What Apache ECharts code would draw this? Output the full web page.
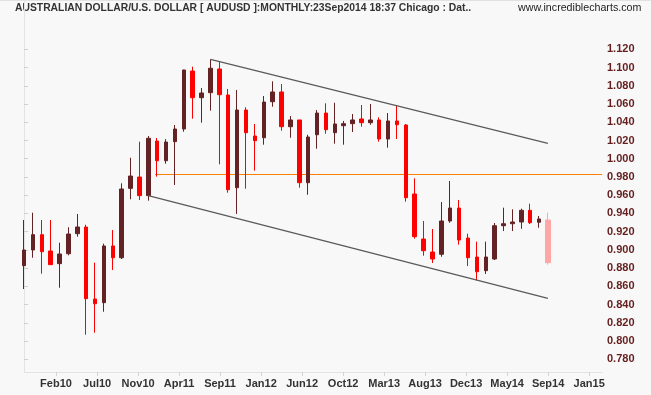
<!DOCTYPE html>
<html><head><meta charset="utf-8">
<script src="https://cdn.jsdelivr.net/npm/echarts@6/dist/echarts.min.js"></script>
<style>html,body{margin:0;padding:0;background:#f8f8f8}#c{width:651px;height:395px}</style>
</head><body><div id="c"></div>
<script>
// Monthly AUDUSD, Oct 2009 .. Sep 2014 (index 0 = Oct09)
const months = ['Oct09','Nov09','Dec09','Jan10','Feb10','Mar10','Apr10','May10','Jun10','Jul10','Aug10','Sep10',
  'Oct10','Nov10','Dec10','Jan11','Feb11','Mar11','Apr11','May11','Jun11','Jul11','Aug11','Sep11',
  'Oct11','Nov11','Dec11','Jan12','Feb12','Mar12','Apr12','May12','Jun12','Jul12','Aug12','Sep12',
  'Oct12','Nov12','Dec12','Jan13','Feb13','Mar13','Apr13','May13','Jun13','Jul13','Aug13','Sep13',
  'Oct13','Nov13','Dec13','Jan14','Feb14','Mar14','Apr14','May14','Jun14','Jul14','Aug14','Sep14'];
const opens = [0.8827,0.8999,0.9167,0.8988,0.8849,0.8958,0.9178,0.9251,0.8461,0.8421,0.9043,0.8914,
  0.9675,0.9799,0.9595,1.0194,0.9978,1.0187,1.0326,1.0962,1.0669,1.0724,1.0984,1.0699,
  0.9682,1.0534,1.0249,1.0230,1.0625,1.0732,1.0351,1.0425,0.9737,1.0263,1.0501,1.0285,
  1.0362,1.0384,1.0436,1.0395,1.0425,1.0216,1.0414,1.0370,0.9613,0.9119,0.8977,0.8952,
  0.9317,0.9459,0.9130,0.8922,0.8772,0.8900,0.9265,0.9287,0.9306,0.9434,0.9303,0.9328];
const highs = [0.9328,0.9408,0.9328,0.9328,0.9079,0.9248,0.9394,0.9276,0.8860,0.9068,0.9218,0.9730,
  1.0011,1.0187,1.0249,1.0227,1.0215,1.0370,1.0975,1.1009,1.0776,1.1090,1.1064,1.0765,
  1.0754,1.0564,1.0381,1.0688,1.0849,1.0819,1.0468,1.0425,1.0263,1.0534,1.0608,1.0614,
  1.0414,1.0490,1.0589,1.0600,1.0454,1.0501,1.0578,1.0381,0.9785,0.9317,0.9229,0.9525,
  0.9756,0.9547,0.9178,0.9090,0.9090,0.9295,0.9463,0.9445,0.9452,0.9507,0.9372,0.9408];
const lows = [0.8571,0.8914,0.8739,0.8835,0.8585,0.8941,0.9145,0.8070,0.8092,0.8322,0.8780,0.8900,
  0.9555,0.9547,0.9540,0.9803,0.9945,0.9712,1.0296,1.0439,1.0395,1.0527,0.9939,0.9627,
  0.9394,0.9671,0.9869,1.0154,1.0570,1.0307,1.0230,0.9682,0.9605,1.0110,1.0274,1.0165,
  1.0154,1.0293,1.0351,1.0373,1.0187,1.0121,1.0216,0.9529,0.9123,0.8936,0.8856,0.8925,
  0.9298,0.9057,0.8823,0.8667,0.8736,0.8889,0.9207,0.9207,0.9232,0.9284,0.9243,0.8838];
const closes = [0.8999,0.9167,0.8980,0.8838,0.8955,0.9174,0.9251,0.8465,0.8410,0.9043,0.8914,0.9668,
  0.9810,0.9595,1.0224,0.9978,1.0183,1.0326,1.0973,1.0669,1.0721,1.0992,1.0702,0.9660,
  1.0534,1.0285,1.0198,1.0622,1.0732,1.0351,1.0425,0.9737,1.0238,1.0501,1.0318,1.0381,
  1.0384,1.0425,1.0395,1.0425,1.0216,1.0414,1.0373,0.9572,0.9145,0.8991,0.8900,0.9317,
  0.9459,0.9108,0.8914,0.8761,0.8922,0.9265,0.9287,0.9306,0.9434,0.9298,0.9339,0.8860];

// x tick positions (months since Oct09) and their labels
const xTickPos = [3.60,8.24,12.85,17.47,22.08,26.71,31.32,35.94,40.56,45.17,49.79,54.41,59.02,63.65];
const xTickLabels = ['Feb10','Jul10','Nov10','Apr11','Sep11','Jan12','Jun12','Oct12','Mar13','Aug13','Dec13','May14','Sep14','Jan15'];
const yTicks = [0.78,0.80,0.82,0.84,0.86,0.88,0.90,0.92,0.94,0.96,0.98,1.00,1.02,1.04,1.06,1.08,1.10,1.12];

// trend channel and horizontal level
const upperChannel = [[21,1.109],[59,1.0169]];
const lowerChannel = [[14,0.9595],[59,0.8469]];
const levelValue = 0.9827;
const levelStart = 14.75;

const X_MAX = 65.09, Y_MIN = 0.76608, Y_MAX = 1.17407;

const n = months.length;
const ohlc = months.map((m, i) => [i, opens[i], closes[i], lows[i], highs[i]]);
const histData = ohlc.slice(0, n - 1);
const lastData = ohlc.slice(n - 1);

const FONT = '"Liberation Sans", Arial, sans-serif';
const chart = echarts.init(document.getElementById('c'), null, {renderer: 'canvas'});
chart.setOption({
  backgroundColor: '#f8f8f8',
  animation: false,
  grid: {left: 24, right: 49, top: 0, bottom: 23, containLabel: false},
  xAxis: {
    type: 'value', min: 0, max: X_MAX,
    axisLine: {show: true, lineStyle: {color: '#e3e3e3', width: 1}},
    axisTick: {show: true, customValues: xTickPos, length: 4, lineStyle: {color: '#d4d4d4'}},
    axisLabel: {
      customValues: xTickPos, margin: 6,
      fontFamily: FONT, fontSize: 11, fontWeight: 'bold', color: '#333',
      formatter: v => {
        let best = 0;
        xTickPos.forEach((p, i) => { if (Math.abs(p - v) < Math.abs(xTickPos[best] - v)) best = i; });
        return xTickLabels[best];
      }
    },
    splitLine: {show: false}
  },
  yAxis: [{
    type: 'value', position: 'right', min: Y_MIN, max: Y_MAX,
    axisLine: {show: true, lineStyle: {color: '#e3e3e3', width: 1}},
    axisTick: {show: true, customValues: yTicks, length: 4, lineStyle: {color: '#cfcfcf'}},
    axisLabel: {
      customValues: yTicks, margin: 5,
      fontFamily: FONT, fontSize: 11, fontWeight: 'bold', color: '#641e1e',
      formatter: v => v.toFixed(3)
    },
    splitLine: {show: false}
  }, {
    type: 'value', position: 'left', min: Y_MIN, max: Y_MAX,
    axisLine: {show: true, lineStyle: {color: '#e3e3e3', width: 1}},
    axisTick: {show: false}, axisLabel: {show: false}, splitLine: {show: false}
  }],
  graphic: [
    {type: 'rect', shape: {x: 0, y: 0, width: 651, height: 1}, style: {fill: '#e2e2e2'}, z: 10},
    {type: 'text', x: 15, y: 2, scaleX: 0.94,
      style: {text: 'AUSTRALIAN DOLLAR/U.S. DOLLAR [ AUDUSD ]:MONTHLY:23Sep2014 18:37 Chicago : Dat..',
        font: 'bold 11px ' + FONT, fill: '#333'}},
    {type: 'text', x: 518, y: 2, scaleX: 0.97,
      style: {text: 'www.incrediblecharts.com', font: '11px ' + FONT, fill: '#222'}}
  ],
  series: [
    {
      type: 'candlestick', data: histData, barWidth: 4, clip: false,
      itemStyle: {color: '#632224', color0: '#ff0000', borderColor: '#632224', borderColor0: '#ff0000', borderColorDoji: '#632224', borderWidth: 1}
    },
    {
      type: 'candlestick', data: lastData, barWidth: 6, clip: false,
      itemStyle: {color: '#ffa6a6', color0: '#ffa6a6', borderColor: '#ffa6a6', borderColor0: '#ffa6a6', borderWidth: 1}
    },
    {type: 'line', data: upperChannel, symbol: 'none', silent: true, lineStyle: {color: '#5a5a5a', width: 1.3}, z: 3},
    {type: 'line', data: lowerChannel, symbol: 'none', silent: true, lineStyle: {color: '#5a5a5a', width: 1.3}, z: 3},
    {type: 'line', data: [[levelStart, levelValue], [X_MAX, levelValue]], symbol: 'none', silent: true,
      lineStyle: {color: '#ff8000', width: 1}, z: 1}
  ]
});
</script></body></html>
